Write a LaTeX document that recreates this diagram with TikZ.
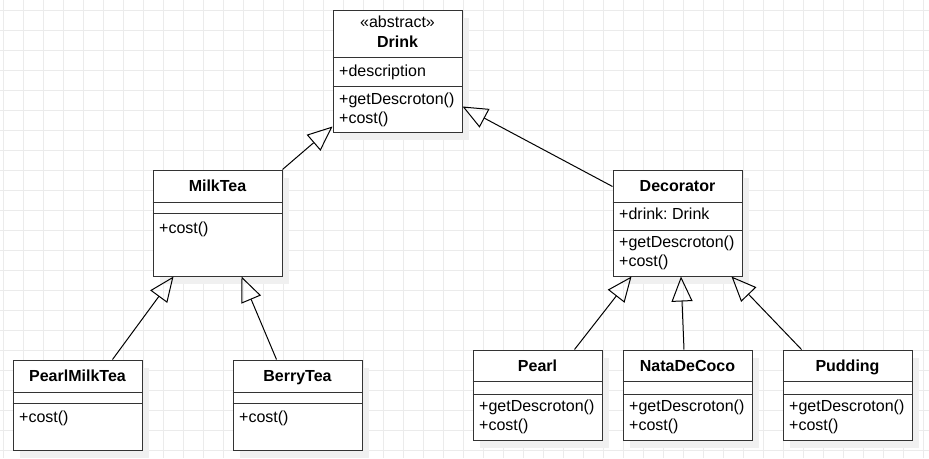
\documentclass[tikz,border=0pt]{standalone}
\usepackage{fontspec}
\setmainfont{Liberation Sans}
\usetikzlibrary{arrows.meta,shadows}
\frenchspacing

\begin{document}
\begin{tikzpicture}
        [x=1pt, y=-1pt,
         every node/.style={font=\fontsize{16}{19}\selectfont, inner sep=0},
         classbox/.style={draw=black!80, fill=white, line width=1pt, minimum width=129pt,
           drop shadow={shadow xshift=7pt, shadow yshift=-8pt, fill=black!6, opacity=1}},
         title/.style={anchor=base, font=\fontsize{16}{19}\selectfont\bfseries},
         stereo/.style={anchor=base},
         member/.style={anchor=base west},
         compart/.style={draw=black!80, line width=1pt},
         inherit/.style={draw=black, line width=1pt, -{Triangle[open, length=25pt, width=21pt]}},
         gridline/.style={draw=black!8, line width=1pt}]

        \useasboundingbox[fill=white] (0,0) rectangle (929,458);
        \foreach \gx in {3,23,...,923} \draw[gridline] (\gx,0) -- (\gx,458);
        \foreach \gy in {10,30,...,450} \draw[gridline] (0,\gy) -- (929,\gy);

        % classes
        \node[classbox, minimum height=122pt] (drink) at (397.5, 71) {};
        \node[classbox, minimum height=106pt] (milktea) at (217.5, 223) {};
        \node[classbox, minimum height=106pt] (decorator) at (677.5, 223) {};
        \node[classbox, minimum height=90pt] (pearlmilktea) at (77.5, 405) {};
        \node[classbox, minimum height=90pt] (berrytea) at (297.5, 405) {};
        \node[classbox, minimum height=90pt] (pearl) at (537.5, 395) {};
        \node[classbox, minimum height=90pt] (natadecoco) at (687.5, 395) {};
        \node[classbox, minimum height=90pt] (pudding) at (847.5, 395) {};

        % compartments
        \draw[compart] (drink.west |- 0,57) -- (drink.east |- 0,57);
        \draw[compart] (drink.west |- 0,86) -- (drink.east |- 0,86);
        \draw[compart] (milktea.west |- 0,202) -- (milktea.east |- 0,202);
        \draw[compart] (milktea.west |- 0,213) -- (milktea.east |- 0,213);
        \draw[compart] (decorator.west |- 0,202) -- (decorator.east |- 0,202);
        \draw[compart] (decorator.west |- 0,230) -- (decorator.east |- 0,230);
        \draw[compart] (pearlmilktea.west |- 0,392) -- (pearlmilktea.east |- 0,392);
        \draw[compart] (pearlmilktea.west |- 0,403) -- (pearlmilktea.east |- 0,403);
        \draw[compart] (berrytea.west |- 0,392) -- (berrytea.east |- 0,392);
        \draw[compart] (berrytea.west |- 0,403) -- (berrytea.east |- 0,403);
        \draw[compart] (pearl.west |- 0,381) -- (pearl.east |- 0,381);
        \draw[compart] (pearl.west |- 0,394) -- (pearl.east |- 0,394);
        \draw[compart] (natadecoco.west |- 0,381) -- (natadecoco.east |- 0,381);
        \draw[compart] (natadecoco.west |- 0,394) -- (natadecoco.east |- 0,394);
        \draw[compart] (pudding.west |- 0,381) -- (pudding.east |- 0,381);
        \draw[compart] (pudding.west |- 0,394) -- (pudding.east |- 0,394);

        % texts
        \node[stereo] (drinkstereo) at (397.5, 27.5) {«abstract»};
        \node[title] (drinkname) at (397.5, 47) {Drink};
        \node[member] (drinkattr) at (339, 76) {+description};
        \node[member] (drinkget) at (339, 104) {+getDescroton()};
        \node[member] (drinkcost) at (339, 123) {+cost()};

        \node[title] (milkteaname) at (217.5, 191) {MilkTea};
        \node[member] (milkteacost) at (159, 233) {+cost()};

        \node[title] (decoratorname) at (677.5, 191) {Decorator};
        \node[member] (decoratorattr) at (619, 219) {+drink: Drink};
        \node[member] (decoratorget) at (619, 247) {+getDescroton()};
        \node[member] (decoratorcost) at (619, 266) {+cost()};

        \node[title] (pearlmilkteaname) at (77.5, 381) {PearlMilkTea};
        \node[member] (pearlmilkteacost) at (19, 422) {+cost()};

        \node[title] (berryteaname) at (297.5, 381) {BerryTea};
        \node[member] (berryteacost) at (239, 422) {+cost()};

        \node[title] (pearlname) at (537.5, 371.5) {Pearl};
        \node[member] (pearlget) at (479, 411.5) {+getDescroton()};
        \node[member] (pearlcost) at (479, 430.5) {+cost()};

        \node[title] (natadecoconame) at (687.5, 371.5) {NataDeCoco};
        \node[member] (natadecocoget) at (629, 411.5) {+getDescroton()};
        \node[member] (natadecococost) at (629, 430.5) {+cost()};

        \node[title] (puddingname) at (847.5, 371.5) {Pudding};
        \node[member] (puddingget) at (789, 411.5) {+getDescroton()};
        \node[member] (puddingcost) at (789, 430.5) {+cost()};

        % generalizations
        \draw[inherit] (milktea.north east) -- ([yshift=6pt]drink.south west);
        \draw[inherit] ([yshift=-17pt]decorator.north west) -- ([yshift=26pt]drink.south east);
        \draw[inherit] ([xshift=-30pt]pearlmilktea.north east) -- ([xshift=21pt]milktea.south west);
        \draw[inherit] ([xshift=44pt]berrytea.north west) -- ([xshift=-41pt]milktea.south east);
        \draw[inherit] ([xshift=-28pt]pearl.north east) -- ([xshift=19pt]decorator.south west);
        \draw[inherit] ([xshift=-3.5pt]natadecoco.north) -- ([xshift=3.5pt]decorator.south);
        \draw[inherit] ([xshift=19pt]pudding.north west) -- ([xshift=-11pt]decorator.south east);

      \end{tikzpicture}
\end{document}
